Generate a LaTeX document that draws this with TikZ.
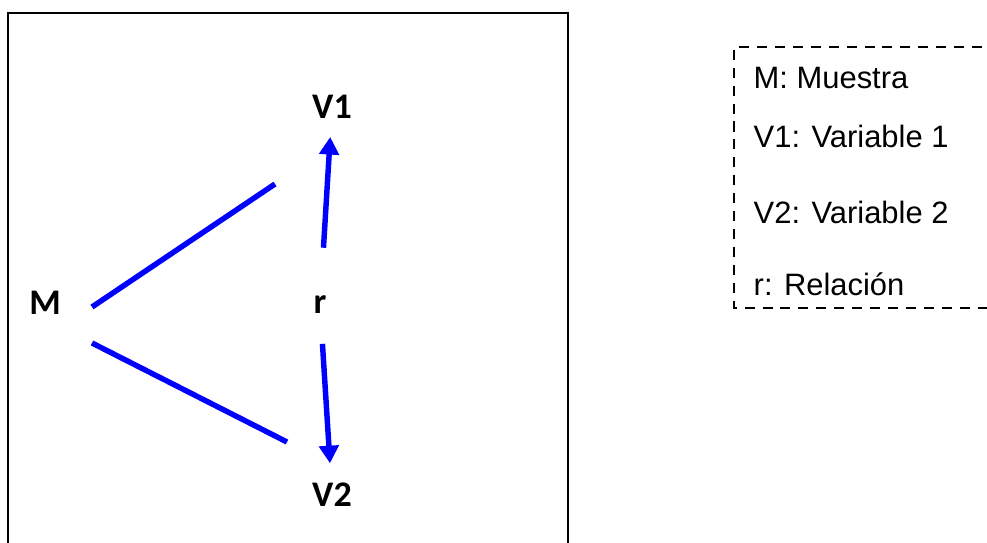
\documentclass[tikz,border=0pt]{standalone}
\usepackage{fontspec}
\setmainfont{Liberation Sans}
\newfontfamily\varfont{Carlito}
\usetikzlibrary{arrows.meta,calc}

\begin{document}
\begin{tikzpicture}[
        x=0.02cm, y=-0.02cm,
        thick,
        font=\fontsize{17.6}{21}\selectfont
    ]
    \tikzset{
        varnode/.style = {inner sep=0pt, anchor=base, font=\varfont\bfseries\fontsize{20.5}{24}\selectfont},
        legnode/.style = {inner sep=0pt, anchor=base west},
        edgeb/.style = {-, line width=3.1pt, blue},
        arrowb/.style = {-{Triangle[length=10pt,width=11pt]}, line width=3.1pt, blue},
        framel/.style = {line width=1.1pt, black},
        framed/.style = {line width=1.4pt, black, dash pattern=on 5.7pt off 4.5pt},
    }
    \useasboundingbox (0,0) rectangle (987,543);
    \draw[framel] (8,560) -- (8,13) -- (568,13) -- (568,560);
    \draw[framed] (1000,47) -- (734,47) -- (734,308) -- (1000,308);
    %
    \node[varnode] at (45,315) (m) {M};
    \node[varnode] at (320,314) (r) {r};
    \node[varnode] at (332,119) (v1) {V1};
    \node[varnode] at (332,507) (v2) {V2};
    %
    \coordinate (mup) at (92,307);
    \coordinate (mdown) at (92,343);
    \coordinate (v1end) at (275,184);
    \coordinate (v2end) at (287,442);
    %
    \draw[edgeb] (mup) -- (v1end);
    \draw[edgeb] (mdown) -- (v2end);
    \draw[arrowb] ($(r)!0.29!(v1)$) -- ($(r)!0.85!(v1)$);
    \draw[arrowb] ($(r)!0.204!(v2)$) -- ($(r)!0.832!(v2)$);
    %
    \node[legnode] at (753,89) (lm) {M: Muestra};
    \node[legnode] at (753,148) (lv1) {V1: Variable 1};
    \node[legnode] at (753,224) (lv2) {V2: Variable 2};
    \node[legnode] at (753,296) (lr) {r: Relación};
\end{tikzpicture}
\end{document}
